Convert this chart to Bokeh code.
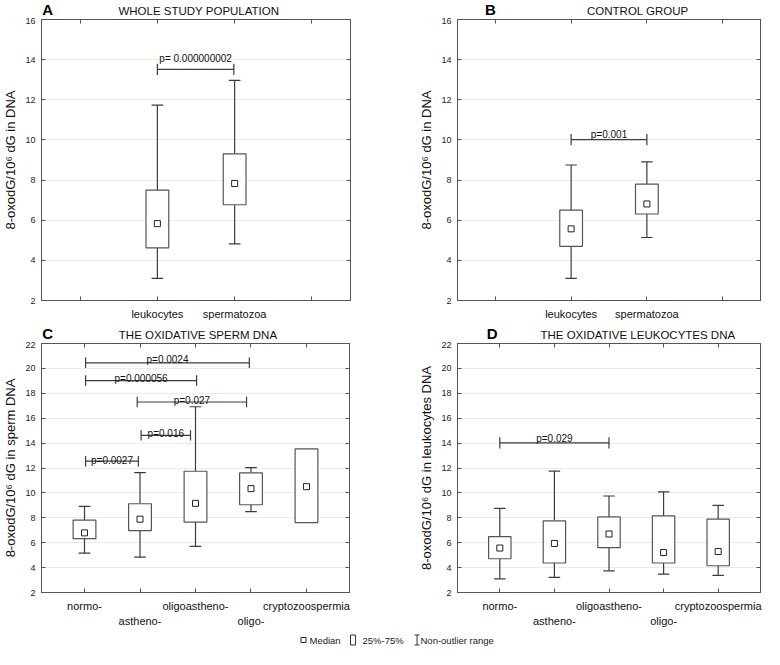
import math
from bokeh.plotting import figure
from bokeh.models import Range1d, FixedTicker, LinearAxis, ColumnDataSource
from bokeh.layouts import column, row
from bokeh.embed import file_html
from bokeh.resources import INLINE
from bokeh.core.properties import value

FONT = "Liberation Sans"
NAN = float("nan")

# ---------------- data ----------------
# Panel A - whole study population
a_cats = ["leukocytes", "spermatozoa"]
a_min = [3.10, 4.82]
a_q1 = [4.62, 6.77]
a_med = [5.83, 7.83]
a_q3 = [7.50, 9.31]
a_max = [11.73, 12.97]
a_br_x0 = [1.0]
a_br_x1 = [1.99]
a_br_y = [13.52]
a_br_ty = [14.05]
a_br_txt = ["p= 0.000000002"]

# Panel B - control group
b_cats = ["leukocytes", "spermatozoa"]
b_min = [3.10, 5.14]
b_q1 = [4.70, 6.31]
b_med = [5.57, 6.81]
b_q3 = [6.50, 7.80]
b_max = [8.75, 8.91]
b_br_x0 = [1.0]
b_br_x1 = [2.0]
b_br_y = [10.02]
b_br_ty = [10.27]
b_br_txt = ["p=0.001"]

# Panel C - oxidative sperm DNA
c_cats = ["normo-", "astheno-", "oligoastheno-", "oligo-", "cryptozoospermia"]
c_min = [5.16, 4.84, 5.71, 8.50, NAN]
c_q1 = [6.32, 6.97, 7.66, 9.05, 7.61]
c_med = [6.79, 7.89, 9.16, 10.34, 10.50]
c_q3 = [7.82, 9.13, 11.74, 11.61, 13.53]
c_max = [8.92, 11.63, 16.92, 12.03, NAN]
c_br_x0 = [1.02, 2.02, 1.95, 1.02, 1.02]
c_br_x1 = [1.97, 2.91, 3.92, 3.02, 3.97]
c_br_y = [12.55, 14.62, 17.30, 19.02, 20.45]
c_br_ty = [12.62, 14.80, 17.45, 19.15, 20.75]
c_br_txt = ["p=0.0027", "p=0.016", "p=0.027", "p=0.000056", "p=0.0024"]

# Panel D - oxidative leukocytes DNA
d_cats = ["normo-", "astheno-", "oligoastheno-", "oligo-", "cryptozoospermia"]
d_min = [3.10, 3.21, 3.73, 3.47, 3.37]
d_q1 = [4.71, 4.37, 5.60, 4.37, 4.15]
d_med = [5.57, 5.94, 6.70, 5.21, 5.29]
d_q3 = [6.49, 7.76, 8.07, 8.15, 7.89]
d_max = [8.75, 11.75, 9.75, 10.09, 8.99]
d_br_x0 = [1.0]
d_br_x1 = [3.0]
d_br_y = [14.02]
d_br_ty = [14.40]
d_br_txt = ["p=0.029"]

yticks_ab = [2, 4, 6, 8, 10, 12, 14, 16]
yticks_cd = [2, 4, 6, 8, 10, 12, 14, 16, 18, 20, 22]

titles = ["WHOLE STUDY POPULATION", "CONTROL GROUP",
          "THE OXIDATIVE SPERM DNA", "THE OXIDATIVE LEUKOCYTES DNA"]
letters = ["A", "B", "C", "D"]

LINE = "#3c3c3c"
BOXC = "#555555"
FRAME = "#555555"
HEAD_H = 17


def make_fig(width, height, mbl, mbr, mbt, mbb, xr, yr, xticks, xlabels, yticks, ylabel):
    p = figure(width=width, height=height, x_range=Range1d(*xr), y_range=Range1d(*yr),
               output_backend="svg", toolbar_location=None,
               min_border_left=mbl, min_border_right=mbr,
               min_border_top=mbt, min_border_bottom=mbb)
    p.outline_line_color = FRAME
    p.xgrid.visible = False
    p.ygrid.ticker = FixedTicker(ticks=yticks)
    p.ygrid.grid_line_color = "#ebebeb"

    ya = p.yaxis[0]
    ya.ticker = FixedTicker(ticks=yticks)
    ya.major_tick_in = 4
    ya.major_tick_out = 0
    ya.minor_tick_line_color = None
    ya.axis_line_color = FRAME
    ya.major_tick_line_color = FRAME
    ya.major_label_text_font = FONT
    ya.major_label_text_font_size = "9px"
    ya.major_label_text_color = "#222222"
    ya.major_label_standoff = 6
    ya.axis_label = ylabel
    ya.axis_label_text_font = FONT
    ya.axis_label_text_font_size = "13px"
    ya.axis_label_text_font_style = "normal"
    ya.axis_label_text_color = "#111111"
    ya.axis_label_standoff = 4

    xa = p.xaxis[0]
    xa.ticker = FixedTicker(ticks=xticks)
    xa.major_label_overrides = {t: l for t, l in zip(xticks, xlabels)}
    xa.major_tick_in = 4
    xa.major_tick_out = 0
    xa.minor_tick_line_color = None
    xa.axis_line_color = FRAME
    xa.major_tick_line_color = FRAME
    xa.major_label_text_font = FONT
    xa.major_label_text_font_size = "11px"
    xa.major_label_text_color = "#111111"
    xa.major_label_text_line_height = 1.3
    xa.major_label_standoff = 7

    ra = LinearAxis(ticker=FixedTicker(ticks=yticks),
                    major_label_overrides={t: "" for t in yticks},
                    major_tick_in=4, major_tick_out=0, major_label_standoff=0,
                    minor_tick_line_color=None, axis_line_color=FRAME,
                    major_tick_line_color=FRAME)
    p.add_layout(ra, "right")
    ta = LinearAxis(ticker=FixedTicker(ticks=xticks),
                    major_label_overrides={t: "" for t in xticks},
                    major_tick_in=4, major_tick_out=0, major_label_standoff=0,
                    minor_tick_line_color=None, axis_line_color=FRAME,
                    major_tick_line_color=FRAME)
    p.add_layout(ta, "above")
    return p


def make_header(width, frame_left, frame_w, title, letter, letter_dx):
    h = figure(width=width, height=HEAD_H, x_range=Range1d(0, width), y_range=Range1d(0, HEAD_H),
               x_axis_type=None, y_axis_type=None, output_backend="svg",
               toolbar_location=None, min_border=0)
    h.outline_line_color = None
    h.text(x=[frame_left + frame_w / 2], y=[HEAD_H / 2 - 1.5], text=[title],
           text_align="center", text_baseline="middle", text_font=value(FONT),
           text_font_size="11.5px", text_color="#111111")
    h.text(x=[max(1, frame_left + letter_dx)], y=[HEAD_H / 2], text=[letter],
           text_align="left", text_baseline="middle", text_font=value(FONT),
           text_font_size="15px", text_font_style="bold", text_color="#000000")
    return h


def draw_boxes(p, xs, mins, q1s, meds, q3s, maxs, box_w, cap_w):
    wx, wy0, wy1 = [], [], []
    cx0, cx1, cy = [], [], []
    for x, lo, q1, q3, hi in zip(xs, mins, q1s, q3s, maxs):
        if not math.isnan(lo):
            wx.append(x); wy0.append(lo); wy1.append(q1)
            cx0.append(x - cap_w / 2); cx1.append(x + cap_w / 2); cy.append(lo)
        if not math.isnan(hi):
            wx.append(x); wy0.append(q3); wy1.append(hi)
            cx0.append(x - cap_w / 2); cx1.append(x + cap_w / 2); cy.append(hi)
    p.segment(x0=wx, y0=wy0, x1=wx, y1=wy1, line_color=LINE, line_width=1.2)
    p.segment(x0=cx0, y0=cy, x1=cx1, y1=cy, line_color=LINE, line_width=1.2)
    p.vbar(x=xs, width=box_w, bottom=q1s, top=q3s, fill_color="white",
           line_color=BOXC, line_width=1.2)
    p.scatter(x=xs, y=meds, marker="square", size=6, fill_color="white",
              line_color="#222222", line_width=1)


def draw_brackets(p, x0, x1, y, ty, txt, dh):
    p.segment(x0=x0, y0=y, x1=x1, y1=y, line_color=LINE, line_width=1.2)
    ex = list(x0) + list(x1)
    ey = list(y) + list(y)
    p.segment(x0=ex, y0=[v + dh for v in ey], x1=ex, y1=[v - dh for v in ey],
              line_color=LINE, line_width=1.2)
    src = ColumnDataSource(dict(x=[(a + b) / 2 for a, b in zip(x0, x1)], y=ty, t=txt))
    p.text(x="x", y="y", text="t", source=src, text_align="center",
           text_baseline="alphabetic", text_font=value(FONT),
           text_font_size="10px", text_color="#111111")


ylab = "8-oxodG/10\u2076 dG in DNA"

# ---- Panel A ----
ab_ticks = [0, 1, 2, 3]
pa = make_fig(380, 307, 37, 30, 2, 24, (-0.5, 3.5), (2, 16), ab_ticks,
              ["", a_cats[0], a_cats[1], ""], yticks_ab, ylab)
draw_boxes(pa, [1, 2], a_min, a_q1, a_med, a_q3, a_max, 0.295, 0.15)
draw_brackets(pa, a_br_x0, a_br_x1, a_br_y, a_br_ty, a_br_txt, 0.28)
ha = make_header(380, 37, 313, titles[0], letters[0], -42)

# ---- Panel B ----
pb = make_fig(384, 307, 77, 4, 2, 24, (-0.5, 3.5), (2, 16), ab_ticks,
              ["", b_cats[0], b_cats[1], ""], yticks_ab, ylab)
draw_boxes(pb, [1, 2], b_min, b_q1, b_med, b_q3, b_max, 0.30, 0.15)
draw_brackets(pb, b_br_x0, b_br_x1, b_br_y, b_br_ty, b_br_txt, 0.28)
hb = make_header(384, 77, 303, titles[1], letters[1], -42)

# ---- Panel C ----
cd_ticks = [1, 2, 3, 4, 5]
cd_labels = [c_cats[0], "\n" + c_cats[1], c_cats[2], "\n" + c_cats[3], c_cats[4]]
pc = make_fig(380, 289, 37, 31, 2, 38, (0.225, 5.775), (2, 22), cd_ticks,
              cd_labels, yticks_cd, "8-oxodG/10\u2076 dG in sperm DNA")
draw_boxes(pc, cd_ticks, c_min, c_q1, c_med, c_q3, c_max, 0.41, 0.21)
draw_brackets(pc, c_br_x0, c_br_x1, c_br_y, c_br_ty, c_br_txt, 0.42)
hc = make_header(380, 37, 312, titles[2], letters[2], -40)

# ---- Panel D ----
pd_ = make_fig(384, 289, 77, 4, 2, 38, (0.225, 5.775), (2, 22), cd_ticks,
               cd_labels, yticks_cd, "8-oxodG/10\u2076 dG in leukocytes DNA")
draw_boxes(pd_, cd_ticks, d_min, d_q1, d_med, d_q3, d_max, 0.41, 0.21)
draw_brackets(pd_, d_br_x0, d_br_x1, d_br_y, d_br_ty, d_br_txt, 0.45)
hd = make_header(384, 77, 303, titles[3], letters[3], -40)

# ---- Legend strip ----
pl = figure(width=764, height=19, x_range=Range1d(0, 764), y_range=Range1d(0, 19),
            x_axis_type=None, y_axis_type=None, output_backend="svg",
            toolbar_location=None, min_border=0)
pl.outline_line_color = None
pl.scatter(x=[303], y=[9.5], marker="square", size=5, fill_color="white",
           line_color="#222222", line_width=1)
pl.quad(left=[350], right=[355], bottom=[4.5], top=[14.5], fill_color="white",
        line_color="#333333", line_width=1)
pl.segment(x0=[416.5, 414, 414], y0=[4.5, 4.5, 14.5], x1=[416.5, 419, 419],
           y1=[14.5, 4.5, 14.5], line_color="#333333", line_width=1)
leg_src = ColumnDataSource(dict(x=[309, 362, 420], y=[9.5, 9.5, 9.5],
                                t=["Median", "25%-75%", "Non-outlier range"]))
pl.text(x="x", y="y", text="t", source=leg_src, text_align="left",
        text_baseline="middle", text_font=value(FONT), text_font_size="9.5px",
        text_color="#222222")

layout = column(row(column(ha, pa), column(hb, pb)),
                row(column(hc, pc), column(hd, pd_)), pl)
open("out.html", "w").write(file_html(layout, INLINE))
